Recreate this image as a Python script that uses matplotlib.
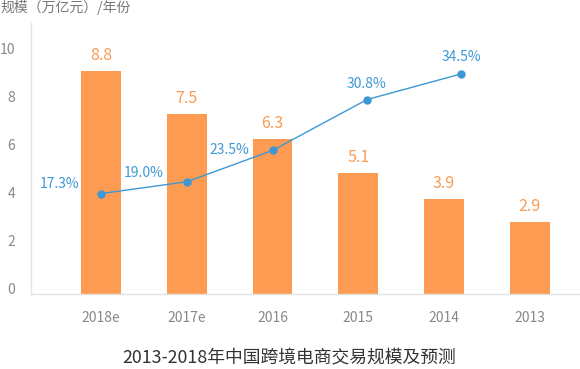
import matplotlib
matplotlib.use('Agg')
import matplotlib.pyplot as plt
from matplotlib.transforms import ScaledTranslation

plt.rcParams['font.family'] = ['Noto Sans CJK SC', 'DejaVu Sans']

# ── 数据 ──
years = ['2018e', '2017e', '2016', '2015', '2014', '2013']
scale_labels = ['8.8', '7.5', '6.3', '5.1', '3.9', '2.9']      # 万亿元（标注）
bar_heights = [9.3, 7.5, 6.45, 5.05, 3.95, 3.0]                # 图上柱高
growth = [17.3, 19.0, 23.5, 30.8, 34.5]                         # 增长率 %
growth_x = [0.0, 1.0, 2.0, 3.1, 4.2]                            # 折线点位置
growth_offsets = [(-30, 7), (-31, 6), (-31, 0), (0, 11.5), (0, 12)]

BAR_C = '#FD9B52'
BAR_TXT = '#F89C57'
LINE_C = '#3D98D5'
GRAY = '#888888'

fig = plt.figure(figsize=(5.8, 3.69), dpi=100)
ax = fig.add_axes([0.0529, 0.2033, 0.9451, 0.7344])

x = list(range(len(years)))
ax.bar(x, bar_heights, width=0.465, color=BAR_C, zorder=2)
for xi, h, lab in zip(x, bar_heights, scale_labels):
    ax.annotate(lab, (xi, h), xytext=(0, 11), textcoords='offset points',
                ha='center', va='center', fontsize=11.5, color=BAR_TXT)

ax.set_xlim(-0.819, 5.571)
ax.set_ylim(0, 11.29)
ax.set_yticks([0, 2, 4, 6, 8, 10])
ax.set_xticks(x)
ax.set_xticklabels(years)
ax.tick_params(axis='both', length=0, labelsize=10, labelcolor=GRAY)
ax.tick_params(axis='y', pad=11)
ax.tick_params(axis='x', pad=12)
off = ScaledTranslation(0, 5 / 100, fig.dpi_scale_trans)
for t in ax.get_yticklabels():
    t.set_transform(t.get_transform() + off)

for s in ['top', 'right']:
    ax.spines[s].set_visible(False)
for s in ['left', 'bottom']:
    ax.spines[s].set_color('#e3e3e3')
    ax.spines[s].set_linewidth(1)

# ── 增长率折线（右侧隐藏刻度）──
ax2 = ax.twinx()
ax2.set_ylim(2.88, 41.81)
ax2.plot(growth_x, growth, color=LINE_C, lw=1.0, marker='o', ms=5, zorder=3)
for gx, g, (dx, dy) in zip(growth_x, growth, growth_offsets):
    ax2.annotate(f'{g:.1f}%', (gx, g), xytext=(dx, dy), textcoords='offset points',
                 ha='center', va='center', fontsize=10, color=LINE_C)
ax2.set_yticks([])
for s in ax2.spines.values():
    s.set_visible(False)

fig.text(0.0, 1 - 7.5 / 369, '规模（万亿元）/年份', ha='left', va='center',
         fontsize=10, color='#777777')
fig.text(289 / 580, 1 - 358 / 369, '2013-2018年中国跨境电商交易规模及预测',
         ha='center', va='center', fontsize=12.8, color='#333333')

fig.savefig('out.png', dpi=100)
